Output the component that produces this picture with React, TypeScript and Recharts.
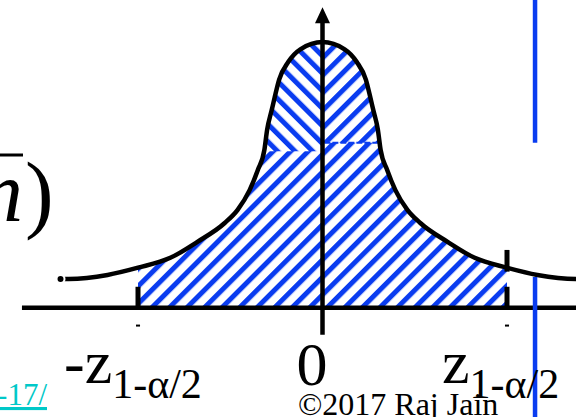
import {
  Area,
  ComposedChart,
  Line,
  ReferenceDot,
  ReferenceLine,
  XAxis,
  YAxis,
} from "recharts";

// curve: z (in units where the critical value is 2) and density
const Z = [
  -2.84, -2.75, -2.33, -2.0, -1.65, -1.36, -1.06, -0.92, -0.79, -0.7, -0.63, -0.6,
  -0.55, -0.52, -0.47, -0.37, -0.24, 0, 0.24, 0.37, 0.47, 0.52, 0.55, 0.6, 0.63,
  0.7, 0.79, 0.92, 1.06, 1.36, 1.65, 2.0, 2.33, 2.75, 2.84,
];
const DENSITY = [
  0.044, 0.044, 0.05, 0.061, 0.076, 0.1, 0.129, 0.149, 0.179, 0.21, 0.24, 0.271,
  0.301, 0.319, 0.347, 0.374, 0.393, 0.404, 0.393, 0.374, 0.347, 0.319, 0.301, 0.271,
  0.24, 0.21, 0.179, 0.149, 0.129, 0.1, 0.076, 0.061, 0.05, 0.044, 0.044,
];
const CRIT = 2;
const SHOULDER_Z = 0.63;
const THRESH_LEFT = 0.238;
const THRESH_RIGHT = 0.251;
const BLUE_LINE_Z = 2.304;
const AXIS_LEFT_Z = -3.258;
const X_DOMAIN: [number, number] = [-3.496, 2.748];
const Y_DOMAIN: [number, number] = [-0.166, 0.468];

const BLUE = "#0a3cf0";
const SERIF = "'Liberation Serif', 'Times New Roman', serif";
const HATCH = 12.4;
const STRIPE = 5;

const data = Z.map((z, i) => {
  const d = DENSITY[i];
  return {
    z,
    d,
    band: Math.abs(z) <= CRIT ? d : null,
    topL: z <= 0 && z >= -SHOULDER_Z ? [Math.min(THRESH_LEFT, d), d] : null,
    topR: z >= 0 && z <= SHOULDER_Z ? [Math.min(THRESH_RIGHT, d), d] : null,
  };
});

const Arrow = (props: any) => {
  const { cx, cy } = props;
  return (
    <polygon
      points={`${cx - 7.5},${cy + 1} ${cx + 7.5},${cy + 1} ${cx},${cy - 15}`}
      fill="#000"
    />
  );
};

const Hatch = ({ id, transform }: { id: string; transform: string }) => (
  <pattern
    id={id}
    patternUnits="userSpaceOnUse"
    width={HATCH}
    height={HATCH}
    patternTransform={transform}
  >
    <rect width={HATCH} height={HATCH} fill="#fff" />
    <rect width={STRIPE} height={HATCH} fill={BLUE} />
  </pattern>
);

export default function App() {
  return (
    <div
      style={{
        position: "absolute",
        left: 0,
        top: 0,
        width: 576,
        height: 417,
        overflow: "hidden",
        background: "#fff",
      }}
    >
      <ComposedChart
        width={576}
        height={417}
        data={data}
        margin={{ top: 0, right: 0, bottom: 0, left: 0 }}
      >
        <defs>
          <Hatch id="hatchR" transform="rotate(45)" />
          <Hatch id="hatchR2" transform="rotate(45) translate(6.2 0)" />
          <Hatch id="hatchL" transform="rotate(-45)" />
        </defs>
        <XAxis
          dataKey="z"
          type="number"
          domain={X_DOMAIN}
          allowDataOverflow
          hide
        />
        <YAxis type="number" domain={Y_DOMAIN} allowDataOverflow hide />
        <Area
          dataKey="band"
          type="monotone"
          baseValue={0}
          fill="url(#hatchR)"
          fillOpacity={1}
          stroke="none"
          isAnimationActive={false}
        />
        <Area
          dataKey="topL"
          type="monotone"
          fill="url(#hatchL)"
          fillOpacity={1}
          stroke="none"
          isAnimationActive={false}
        />
        <Area
          dataKey="topR"
          type="monotone"
          fill="url(#hatchR2)"
          fillOpacity={1}
          stroke="none"
          isAnimationActive={false}
        />
        <ReferenceLine
          segment={[
            { x: 0.02, y: THRESH_RIGHT },
            { x: 0.61, y: THRESH_RIGHT },
          ]}
          stroke={BLUE}
          strokeWidth={2}
          strokeDasharray="6 2"
        />
        <Line
          dataKey="d"
          type="monotone"
          stroke="#000"
          strokeWidth={4.5}
          strokeLinecap="round"
          dot={false}
          isAnimationActive={false}
        />
        {/* axes */}
        <ReferenceLine
          segment={[
            { x: AXIS_LEFT_Z, y: 0 },
            { x: X_DOMAIN[1], y: 0 },
          ]}
          stroke="#000"
          strokeWidth={4.5}
        />
        <ReferenceLine
          segment={[
            { x: 0, y: -0.041 },
            { x: 0, y: 0.435 },
          ]}
          stroke="#000"
          strokeWidth={4.5}
        />
        <ReferenceDot x={0} y={0.434} r={1} shape={Arrow} />
        {/* critical value ticks */}
        <ReferenceLine
          segment={[
            { x: -CRIT, y: 0 },
            { x: -CRIT, y: 0.032 },
          ]}
          stroke="#000"
          strokeWidth={5}
        />
        <ReferenceLine
          segment={[
            { x: CRIT, y: 0 },
            { x: CRIT, y: 0.032 },
          ]}
          stroke="#000"
          strokeWidth={5}
        />
        <ReferenceLine
          segment={[
            { x: CRIT, y: 0.055 },
            { x: CRIT, y: 0.088 },
          ]}
          stroke="#000"
          strokeWidth={5}
        />
        <ReferenceLine
          segment={[
            { x: -CRIT - 0.022, y: -0.027 },
            { x: -CRIT + 0.022, y: -0.027 },
          ]}
          stroke="#000"
          strokeWidth={2}
        />
        <ReferenceLine
          segment={[
            { x: CRIT - 0.022, y: -0.027 },
            { x: CRIT + 0.022, y: -0.027 },
          ]}
          stroke="#000"
          strokeWidth={2}
        />
        {/* blue slide divider */}
        <ReferenceLine
          segment={[
            { x: BLUE_LINE_Z, y: 0.251 },
            { x: BLUE_LINE_Z, y: Y_DOMAIN[1] },
          ]}
          stroke={BLUE}
          strokeWidth={4.5}
        />
        <ReferenceLine
          segment={[
            { x: BLUE_LINE_Z, y: Y_DOMAIN[0] },
            { x: BLUE_LINE_Z, y: 0.047 },
          ]}
          stroke={BLUE}
          strokeWidth={4.5}
        />
      </ComposedChart>
      <svg
        width={576}
        height={417}
        style={{ position: "absolute", left: 0, top: 0, pointerEvents: "none" }}
        fontFamily={SERIF}
      >
        <line x1={0} y1={155} x2={23} y2={155} stroke="#000" strokeWidth={3} />
        <text x={-20} y={221} fontSize={86} fontStyle="italic">
          n
        </text>
        <text x={25} y={222} fontSize={86}>
          )
        </text>
        <text x={64} y={383} fontSize={62}>
          -z<tspan fontSize={42} dy={15}>1-α/2</tspan>
        </text>
        <text x={296.5} y={385} fontSize={62}>
          0
        </text>
        <text x={442} y={383} fontSize={62}>
          z<tspan fontSize={42} dy={15}>1-α/2</tspan>
        </text>
        <text x={298} y={415} fontSize={32}>
          ©2017 Raj Jain
        </text>
        <text
          x={47}
          y={405}
          fontSize={31}
          textAnchor="end"
          fill="#00c8c8"
          textDecoration="underline"
        >
          -17/
        </text>
      </svg>
    </div>
  );
}
